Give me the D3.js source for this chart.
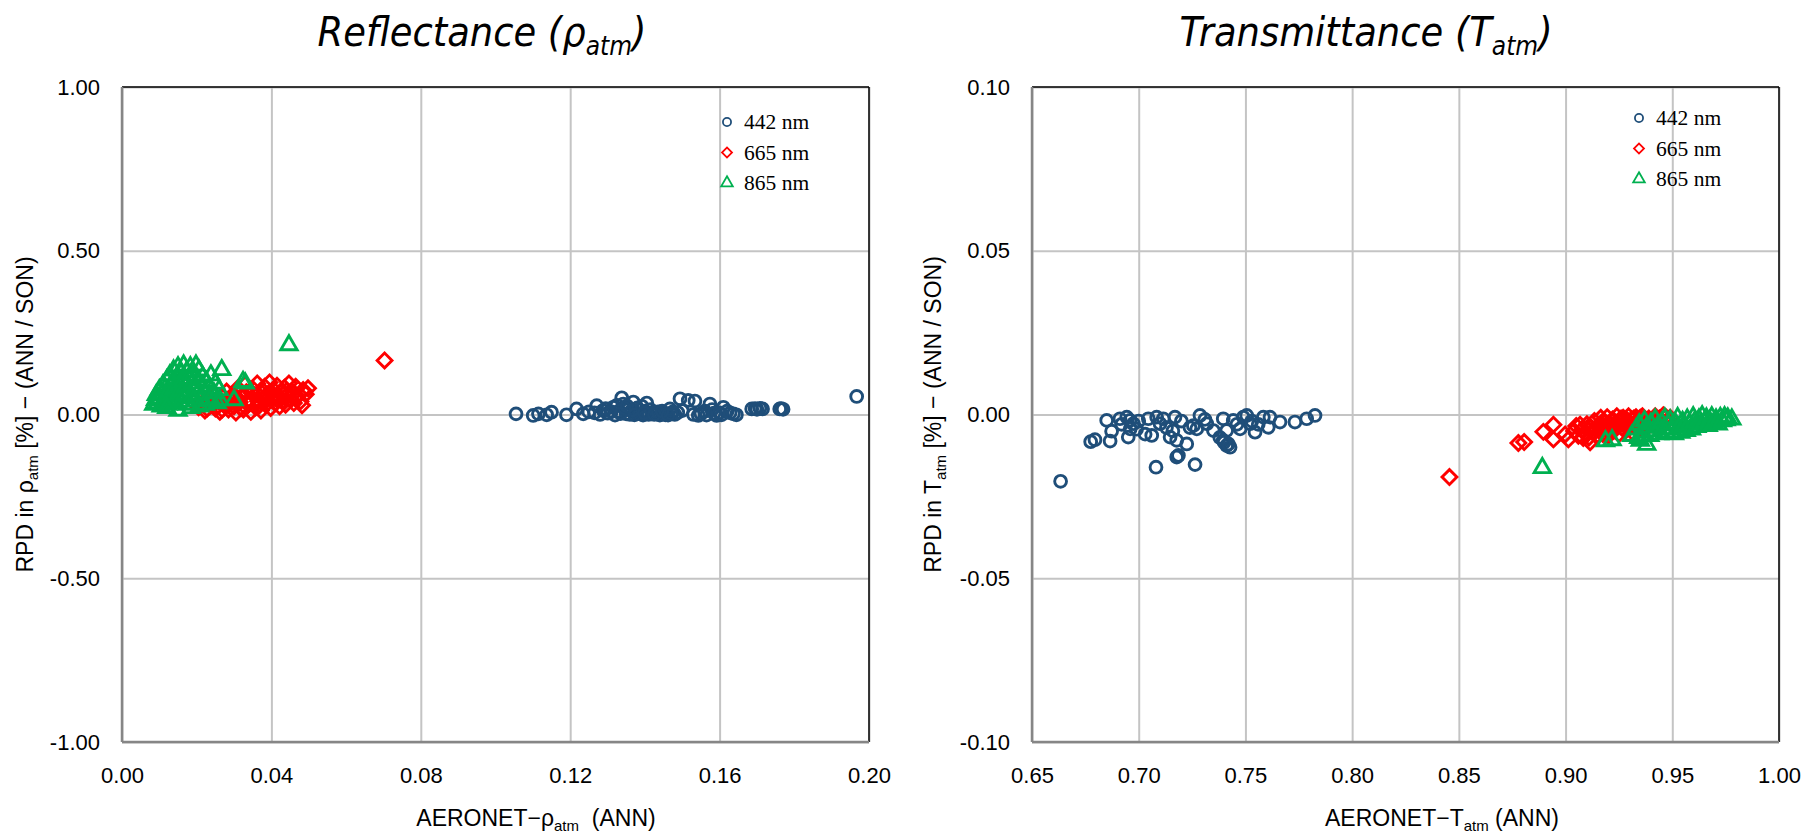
<!DOCTYPE html>
<html>
<head>
<meta charset="utf-8">
<script src="https://cdn.jsdelivr.net/npm/d3@7"></script>
<style>
  html, body { margin: 0; padding: 0; background: #fff; }
  svg { display: block; }
</style>
</head>
<body>
<svg id="chart" width="1811" height="833"></svg>
<script>
// ---- Series and axis settings -------------------------------------------
const seriesNames = ["442 nm", "665 nm", "865 nm"];

// Reflectance panel: [AERONET rho_atm, RPD %]
const refl442 = [
  [0.1055,0.002],[0.1101,-0.003],[0.1115,0.002],[0.1137,-0.001],[0.1150,0.007],[0.1190,-0.001],
  [0.1217,0.017],[0.1235,0.002],[0.1250,0.008],[0.1271,0.027],[0.1288,0.012],[0.1300,0.004],
  [0.1315,0.022],[0.1320,-0.002],[0.1330,0.010],[0.1338,0.051],[0.1342,0.032],[0.1350,0.002],
  [0.1355,0.015],[0.1360,0.000],[0.1369,0.038],[0.1375,0.005],[0.1380,0.020],[0.1387,0.002],
  [0.1395,-0.002],[0.1400,0.010],[0.1405,0.035],[0.1410,0.000],[0.1420,0.006],[0.1431,0.002],
  [0.1440,-0.002],[0.1450,0.004],[0.1458,0.002],[0.1467,0.017],[0.1475,0.008],[0.1480,0.000],
  [0.1494,0.048],[0.1500,0.012],[0.1516,0.043],[0.1534,0.041],[0.1543,-0.003],[0.1550,0.002],
  [0.1560,0.010],[0.1574,0.032],[0.1580,0.015],[0.1592,-0.003],[0.1600,0.005],[0.1610,0.022],
  [0.1620,0.010],[0.1637,0.002],[0.1645,-0.001],[0.1686,0.017],[0.1695,0.018],[0.1708,0.019],
  [0.1715,0.017],[0.1761,0.017],[0.1770,0.016],[0.1967,0.055],
  [0.1280,0.000],[0.1295,0.018],[0.1325,0.028],[0.1345,0.020],[0.1365,0.012],[0.1392,0.025],
  [0.1415,0.015],[0.1435,0.008],[0.1455,-0.001],[0.1470,0.003],[0.1488,0.006],[0.1530,0.000],
  [0.1265,0.005],[0.1310,0.008],[0.1335,0.003],[0.1352,0.026],[0.1372,-0.001],[0.1398,0.005],
  [0.1425,0.000],[0.1446,0.010],[0.1462,-0.002],[0.1565,-0.002],[0.1585,0.004],[0.1605,-0.001],
  [0.1628,0.005],[0.1700,0.016],[0.1765,0.018]
];
const refl665 = [
  [0.0703,0.165],
  [0.0205,0.022],[0.0215,0.035],[0.0222,0.012],[0.0230,0.048],[0.0238,0.028],[0.0245,0.060],
  [0.0250,0.018],[0.0258,0.040],[0.0262,0.008],[0.0270,0.052],[0.0275,0.030],[0.0280,0.070],
  [0.0285,0.015],[0.0292,0.045],[0.0298,0.062],[0.0300,0.025],[0.0305,0.006],[0.0310,0.080],
  [0.0315,0.038],[0.0320,0.055],[0.0325,0.015],[0.0330,0.092],[0.0333,0.068],[0.0338,0.030],
  [0.0342,0.045],[0.0345,0.008],[0.0350,0.078],[0.0355,0.058],[0.0358,0.022],[0.0362,0.095],
  [0.0365,0.040],[0.0370,0.070],[0.0372,0.012],[0.0378,0.050],[0.0382,0.085],[0.0385,0.030],
  [0.0390,0.062],[0.0395,0.098],[0.0398,0.020],[0.0402,0.045],[0.0406,0.075],[0.0410,0.035],
  [0.0415,0.088],[0.0418,0.055],[0.0422,0.025],[0.0426,0.068],[0.0430,0.042],[0.0435,0.082],
  [0.0438,0.030],[0.0442,0.060],[0.0447,0.095],[0.0450,0.050],[0.0455,0.072],[0.0460,0.035],
  [0.0465,0.085],[0.0470,0.055],[0.0478,0.040],[0.0485,0.075],[0.0492,0.062],[0.0498,0.080],
  [0.0482,0.028],
  [0.0212,0.028],[0.0228,0.018],[0.0242,0.040],[0.0255,0.025],[0.0268,0.015],[0.0288,0.035],
  [0.0302,0.050],[0.0318,0.020],[0.0336,0.040],[0.0348,0.065],[0.0368,0.028],[0.0388,0.045],
  [0.0408,0.058],[0.0425,0.048],[0.0440,0.072],[0.0458,0.062]
];
const refl865 = [
  [0.0447,0.212],[0.0267,0.136],[0.0324,0.100],[0.0330,0.095],[0.0262,0.044],[0.0300,0.044],
  [0.0150,0.012],
  [0.0085,0.030],[0.0090,0.045],[0.0092,0.060],[0.0095,0.035],[0.0100,0.075],[0.0102,0.050],
  [0.0105,0.025],[0.0108,0.065],[0.0110,0.090],[0.0113,0.040],[0.0116,0.080],[0.0118,0.055],
  [0.0120,0.105],[0.0123,0.030],[0.0126,0.070],[0.0128,0.120],[0.0130,0.045],[0.0133,0.095],
  [0.0135,0.060],[0.0138,0.135],[0.0140,0.080],[0.0143,0.035],[0.0145,0.110],[0.0148,0.055],
  [0.0150,0.145],[0.0153,0.090],[0.0155,0.070],[0.0158,0.125],[0.0160,0.040],[0.0163,0.100],
  [0.0165,0.150],[0.0168,0.060],[0.0170,0.085],[0.0173,0.130],[0.0175,0.030],[0.0178,0.110],
  [0.0180,0.070],[0.0183,0.145],[0.0185,0.050],[0.0188,0.095],[0.0190,0.120],[0.0193,0.040],
  [0.0195,0.080],[0.0198,0.150],[0.0200,0.060],[0.0203,0.105],[0.0206,0.135],[0.0210,0.045],
  [0.0213,0.085],[0.0216,0.115],[0.0220,0.065],[0.0223,0.030],[0.0226,0.100],[0.0230,0.050],
  [0.0234,0.080],[0.0238,0.120],[0.0242,0.040],[0.0246,0.065],[0.0250,0.095],[0.0255,0.035],
  [0.0260,0.075],[0.0208,0.025],[0.0185,0.020],[0.0120,0.020]
];

// Transmittance panel: [AERONET T_atm, RPD %]
const trans442 = [
  [0.6634,-0.0204],[0.6775,-0.0083],[0.6795,-0.0077],[0.6850,-0.0018],[0.6873,-0.0051],[0.6866,-0.0081],
  [0.6912,-0.0013],[0.6944,-0.0008],[0.6959,-0.0018],[0.6975,-0.0028],[0.6951,-0.0069],[0.6960,-0.0044],
  [0.7045,-0.0013],[0.7084,-0.0008],[0.7115,-0.0013],[0.7170,-0.0008],[0.7061,-0.0064],[0.7100,-0.0028],
  [0.7147,-0.0069],[0.7178,-0.0079],[0.7225,-0.0090],[0.7178,-0.0130],[0.7186,-0.0125],[0.7264,-0.0153],
  [0.7081,-0.0161],[0.7287,-0.0003],[0.7256,-0.0034],[0.7272,-0.0044],[0.7319,-0.0028],[0.7350,-0.0049],
  [0.7396,-0.0013],[0.7412,-0.0049],[0.7396,-0.0079],[0.7412,-0.0095],[0.7428,-0.0100],[0.7443,-0.0018],
  [0.7490,-0.0008],[0.7506,-0.0003],[0.7522,-0.0028],[0.7475,-0.0044],[0.7545,-0.0054],[0.7584,-0.0008],
  [0.7615,-0.0008],[0.7607,-0.0039],[0.7662,-0.0023],[0.7732,-0.0023],[0.7787,-0.0013],[0.7826,-0.0003],
  [0.7400,-0.0085],[0.7420,-0.0090],[0.7380,-0.0070],[0.7160,-0.0050],[0.7130,-0.0040],[0.7030,-0.0060],
  [0.7000,-0.0020],[0.6990,-0.0045],[0.7460,-0.0030],[0.7530,-0.0020],[0.7200,-0.0020],[0.7240,-0.0040],
  [0.7310,-0.0015],[0.7560,-0.0030],[0.6920,-0.0030]
];
const trans665 = [
  [0.8456,-0.0191],[0.8779,-0.0087],[0.8806,-0.0084],[0.8896,-0.0053],[0.8943,-0.0031],[0.8943,-0.0076],
  [0.8998,-0.0061],[0.9013,-0.0076],[0.9068,-0.0031],[0.9083,-0.0072],[0.9458,-0.0002],
  [0.9040,-0.0050],[0.9060,-0.0065],[0.9080,-0.0045],[0.9095,-0.0060],[0.9100,-0.0030],[0.9110,-0.0070],
  [0.9120,-0.0040],[0.9130,-0.0055],[0.9135,-0.0020],[0.9145,-0.0065],[0.9150,-0.0035],[0.9160,-0.0050],
  [0.9165,-0.0010],[0.9175,-0.0060],[0.9180,-0.0025],[0.9190,-0.0045],[0.9195,-0.0008],[0.9205,-0.0055],
  [0.9210,-0.0030],[0.9220,-0.0015],[0.9225,-0.0050],[0.9235,-0.0035],[0.9240,-0.0005],[0.9250,-0.0060],
  [0.9255,-0.0020],[0.9265,-0.0040],[0.9270,-0.0010],[0.9280,-0.0050],[0.9285,-0.0025],[0.9295,-0.0005],
  [0.9300,-0.0040],[0.9310,-0.0015],[0.9315,-0.0055],[0.9325,-0.0030],[0.9330,-0.0008],[0.9340,-0.0045],
  [0.9345,-0.0020],[0.9355,-0.0035],[0.9360,-0.0005],[0.9370,-0.0025],[0.9380,-0.0040],[0.9390,-0.0012],
  [0.9400,-0.0030],[0.9410,-0.0018],[0.9420,-0.0005],[0.9430,-0.0025],[0.9440,-0.0012],[0.9470,-0.0008],
  [0.9490,-0.0010],[0.9050,-0.0035],[0.9115,-0.0085],[0.9200,-0.0065],
  [0.9140,-0.0045],[0.9170,-0.0030],[0.9185,-0.0055],[0.9215,-0.0040],[0.9245,-0.0028],[0.9260,-0.0012],
  [0.9275,-0.0032],[0.9290,-0.0018],[0.9305,-0.0028],[0.9320,-0.0012],[0.9335,-0.0030],[0.9350,-0.0010]
];
const trans865 = [
  [0.8891,-0.0163],[0.9187,-0.0081],[0.9218,-0.0078],[0.9343,-0.0071],[0.9380,-0.0092],[0.9752,-0.0017],
  [0.9779,-0.0015],
  [0.9330,-0.0045],[0.9345,-0.0030],[0.9360,-0.0055],[0.9370,-0.0020],[0.9380,-0.0040],[0.9395,-0.0065],
  [0.9400,-0.0028],[0.9410,-0.0050],[0.9420,-0.0015],[0.9430,-0.0038],[0.9440,-0.0060],[0.9450,-0.0025],
  [0.9458,-0.0045],[0.9465,-0.0012],[0.9475,-0.0055],[0.9482,-0.0032],[0.9490,-0.0018],[0.9500,-0.0045],
  [0.9510,-0.0060],[0.9515,-0.0028],[0.9525,-0.0010],[0.9530,-0.0040],[0.9540,-0.0055],[0.9548,-0.0022],
  [0.9555,-0.0035],[0.9565,-0.0050],[0.9570,-0.0015],[0.9580,-0.0030],[0.9590,-0.0045],[0.9598,-0.0008],
  [0.9605,-0.0022],[0.9615,-0.0038],[0.9625,-0.0015],[0.9632,-0.0030],[0.9640,-0.0005],[0.9650,-0.0025],
  [0.9660,-0.0012],[0.9668,-0.0035],[0.9675,-0.0020],[0.9685,-0.0008],[0.9695,-0.0025],[0.9705,-0.0015],
  [0.9715,-0.0030],[0.9725,-0.0010],[0.9735,-0.0020],[0.9745,-0.0008],[0.9760,-0.0012],[0.9310,-0.0065],
  [0.9350,-0.0080]
];

// Tick values
const reflXTicks  = [0.00, 0.04, 0.08, 0.12, 0.16, 0.20];
const reflYTicks  = [-1.00, -0.50, 0.00, 0.50, 1.00];
const transXTicks = [0.65, 0.70, 0.75, 0.80, 0.85, 0.90, 0.95, 1.00];
const transYTicks = [-0.10, -0.05, 0.00, 0.05, 0.10];

// ---- Drawing ------------------------------------------------------------
const svg = d3.select("#chart");
const colors = ["#1F4E79", "#FF0000", "#00B050"];
const symbols = ["circle", "diamond", "triangle"];
// two decimals, plain hyphen for negatives
const fmt = d => d3.format(".2f")(d).replace("\u2212", "-");

function symbolPath(kind, size) {
  if (kind === "circle") return d3.symbol(d3.symbolCircle, size)();
  if (kind === "triangle") return d3.symbol(d3.symbolTriangle, size)();
  return d3.symbol(d3.symbolSquare, size)();
}
function symbolRot(kind) { return kind === "diamond" ? " rotate(45)" : ""; }

function drawPanel(p) {
  const x = d3.scaleLinear().domain(p.xDomain).range([p.left, p.right]);
  const y = d3.scaleLinear().domain(p.yDomain).range([p.bottom, p.top]);
  const g = svg.append("g");

  // gridlines
  g.append("g")
    .attr("transform", `translate(0,${p.bottom})`)
    .call(d3.axisBottom(x).tickValues(p.xTicks).tickSize(-(p.bottom - p.top)).tickFormat(""))
    .call(s => s.select(".domain").remove())
    .call(s => s.selectAll("line").attr("stroke", "#c4c4c4").attr("stroke-width", 2));
  g.append("g")
    .attr("transform", `translate(${p.left},0)`)
    .call(d3.axisLeft(y).tickValues(p.yTicks).tickSize(-(p.right - p.left)).tickFormat(""))
    .call(s => s.select(".domain").remove())
    .call(s => s.selectAll("line").attr("stroke", "#c4c4c4").attr("stroke-width", 2));

  // plot frame: top/right black, axis lines gray
  g.append("line").attr("x1", p.left).attr("x2", p.right).attr("y1", p.top).attr("y2", p.top)
    .attr("stroke", "#000").attr("stroke-width", 1.5);
  g.append("line").attr("x1", p.right).attr("x2", p.right).attr("y1", p.top).attr("y2", p.bottom)
    .attr("stroke", "#000").attr("stroke-width", 1.5);
  g.append("line").attr("x1", p.left).attr("x2", p.left).attr("y1", p.top).attr("y2", p.bottom)
    .attr("stroke", "#868686").attr("stroke-width", 2.5);
  g.append("line").attr("x1", p.left).attr("x2", p.right).attr("y1", p.bottom).attr("y2", p.bottom)
    .attr("stroke", "#868686").attr("stroke-width", 2.5);

  // tick labels
  g.append("g")
    .attr("transform", `translate(0,${p.bottom})`)
    .call(d3.axisBottom(x).tickValues(p.xTicks).tickSize(0).tickPadding(25).tickFormat(fmt))
    .call(s => s.select(".domain").remove())
    .call(s => s.selectAll("text").attr("font-family", "'Liberation Sans', Arial, sans-serif")
      .attr("font-size", 22).attr("fill", "#000"));
  g.append("g")
    .attr("transform", `translate(${p.left},0)`)
    .call(d3.axisLeft(y).tickValues(p.yTicks).tickSize(0).tickPadding(22).tickFormat(fmt))
    .call(s => s.select(".domain").remove())
    .call(s => s.selectAll("text").attr("font-family", "'Liberation Sans', Arial, sans-serif")
      .attr("font-size", 22).attr("fill", "#000"));

  // data markers
  const sizes = { circle: 110, diamond: 110, triangle: 115 };
  p.series.forEach((data, i) => {
    const kind = symbols[i];
    g.append("g").selectAll("path").data(data).join("path")
      .attr("d", symbolPath(kind, sizes[kind]))
      .attr("transform", d => `translate(${x(d[0])},${y(d[1])})${symbolRot(kind)}`)
      .attr("fill", "none")
      .attr("stroke", colors[i])
      .attr("stroke-width", 2.9);
  });

  // legend
  const lsizes = { circle: 52, diamond: 50, triangle: 58 };
  seriesNames.forEach((name, i) => {
    const ly = p.legendY + i * 30.5;
    const kind = symbols[i];
    g.append("path")
      .attr("d", symbolPath(kind, lsizes[kind]))
      .attr("transform", `translate(${p.legendX},${ly})${symbolRot(kind)}`)
      .attr("fill", "none").attr("stroke", colors[i]).attr("stroke-width", 1.8);
    g.append("text")
      .attr("x", p.legendX + 17).attr("y", ly + 7)
      .attr("font-family", "'Liberation Serif', 'Times New Roman', serif")
      .attr("font-size", 21.5).attr("fill", "#000")
      .text(name);
  });

  // title
  const t = g.append("text")
    .attr("x", p.titleX).attr("y", 46)
    .attr("text-anchor", "middle")
    .attr("font-family", "'Liberation Sans Narrow', 'DejaVu Sans Condensed', sans-serif")
    .attr("font-style", "italic")
    .attr("font-size", 41).attr("fill", "#000");
  t.append("tspan").text(p.title + " (" + p.sym);
  t.append("tspan").attr("font-size", 26).attr("dy", 9).text("atm");
  t.append("tspan").attr("dy", -9).text(")");

  // x-axis title
  const xt = g.append("text")
    .attr("x", p.xLabelX).attr("y", 826)
    .attr("text-anchor", "middle")
    .attr("font-family", "'Liberation Sans', Arial, sans-serif")
    .attr("font-size", 23).attr("fill", "#000");
  xt.append("tspan").text("AERONET\u2212" + p.sym);
  xt.append("tspan").attr("font-size", 15).attr("dy", 5).text("atm");
  xt.append("tspan").attr("dy", -5).text(p.xLabelTail);

  // y-axis title
  const yt = g.append("text")
    .attr("transform", `translate(${p.yLabelX},${(p.top + p.bottom) / 2}) rotate(-90)`)
    .attr("text-anchor", "middle")
    .attr("font-family", "'Liberation Sans', Arial, sans-serif")
    .attr("font-size", 23).attr("fill", "#000");
  yt.append("tspan").text("RPD in " + p.sym);
  yt.append("tspan").attr("font-size", 15).attr("dy", 5).text("atm");
  yt.append("tspan").attr("dy", -5).text(" [%] \u2212 (ANN / SON)");
}

drawPanel({
  left: 122, right: 869, top: 87, bottom: 742,
  xDomain: [0, 0.2], yDomain: [-1, 1],
  xTicks: reflXTicks, yTicks: reflYTicks,
  series: [refl442, refl665, refl865],
  legendX: 727, legendY: 122,
  title: "Reflectance", sym: "\u03C1", titleX: 482,
  xLabelX: 536, xLabelTail: "\u00A0 (ANN)", yLabelX: 33
});
drawPanel({
  left: 1032, right: 1779, top: 87, bottom: 742,
  xDomain: [0.65, 1.0], yDomain: [-0.1, 0.1],
  xTicks: transXTicks, yTicks: transYTicks,
  series: [trans442, trans665, trans865],
  legendX: 1639, legendY: 118,
  title: "Transmittance", sym: "T", titleX: 1366,
  xLabelX: 1442, xLabelTail: " (ANN)", yLabelX: 941
});
</script>
</body>
</html>
